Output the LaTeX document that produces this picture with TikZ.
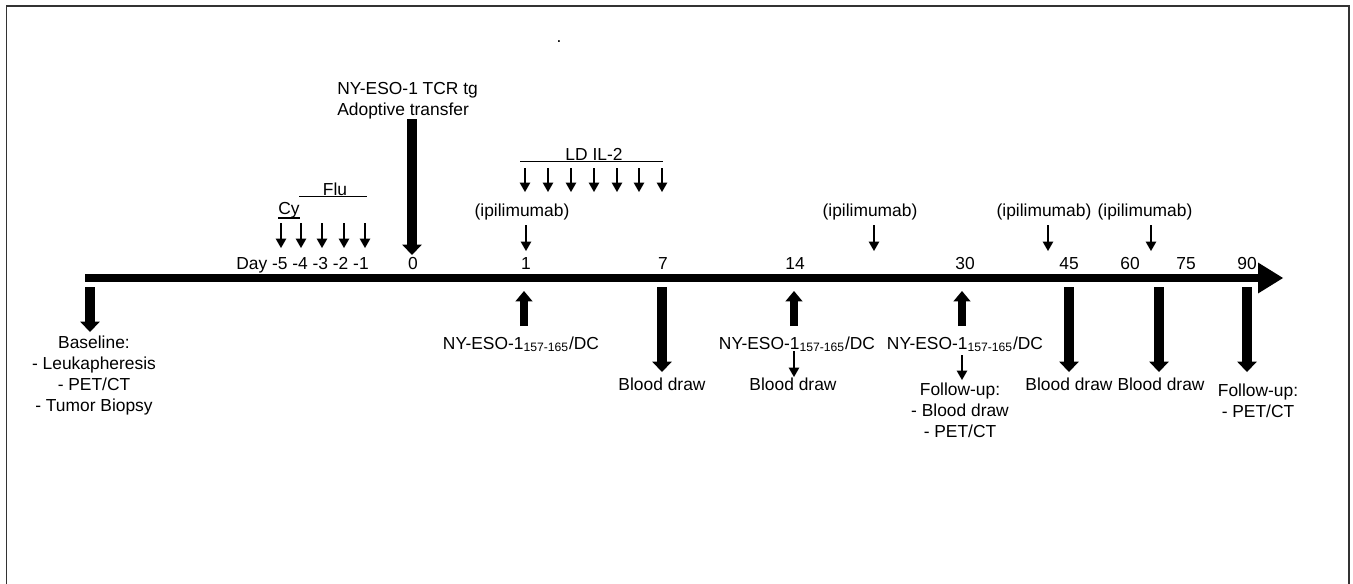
\documentclass[tikz,border=0pt]{standalone}
\usepackage{fontspec}
\setmainfont{Liberation Sans}
\usepackage{tikz}
\usetikzlibrary{positioning,arrows.meta}
\definecolor{framegray}{HTML}{333333}

\tikzset{
  lbl/.style={inner sep=0pt, font=\fontsize{9.9}{11.9}\selectfont},
  bigarr/.style={line width=5.2pt, -{Triangle[width=11.2pt, length=5.9pt, line width=0pt]}},
  uparr/.style={line width=4.4pt, -{Triangle[width=9.8pt, length=5.9pt, line width=0pt]}},
  smallarr/.style={line width=1.3pt, -{Triangle[width=6.2pt, length=5.4pt, line width=0pt]}},
  barline/.style={line width=0.85pt}
}

\begin{document}
\begin{tikzpicture}[x=0.02cm, y=0.02cm]
  \useasboundingbox (0,0) rectangle (1353,583);
  \draw[framegray, line width=0.6pt] (6.5,-5) rectangle (1349,577);
  \node[lbl, anchor=base] (dot) at (559,541) {.};

  % Time line
  \coordinate (tlStart) at (85,305);
  \coordinate (tlEnd) at (1283,305);
  \draw[line width=5.1pt, -{Triangle[width=17.6pt, length=14.2pt, line width=0pt]}] (tlStart) -- (tlEnd);

  % Day labels
  \node[lbl, anchor=base] (dayLbl) at (302.5,314) {Day -5 -4 -3 -2 -1};
  \foreach \d/\x in {0/413, 1/526, 7/663, 14/795, 30/965, 45/1069, 60/1130, 75/1186, 90/1247}
    \node[lbl, anchor=base] (day\d) at (\x,314) {\d};

  % Cy / Flu conditioning
  \node[lbl, anchor=base] (cyLbl) at (289,369) {Cy};
  \draw[barline] (cyLbl.south west) -- (cyLbl.south east);
  \node[lbl, anchor=base] (fluLbl) at (335,388) {Flu};
  \coordinate (fluL) at (299,386.3);
  \coordinate (fluR) at (367,386.3);
  \draw[barline] (fluL) -- (fluR);
  \foreach \i/\x in {1/281, 2/301, 3/322, 4/344, 5/365} {
    \coordinate (cyTop\i) at (\x,360);
    \coordinate (cyTip\i) at (\x,335);
    \draw[smallarr] (cyTop\i) -- (cyTip\i);
  }

  % Adoptive transfer (day 0)
  \node[lbl, anchor=north west, align=left] (adoptLbl) at (337,501) {NY-ESO-1 TCR tg\\Adoptive transfer};
  \coordinate (adoptTop) at (412,464);
  \coordinate (adoptTip) at (412,328);
  \draw[bigarr] (adoptTop) -- (adoptTip);

  % LD IL-2
  \node[lbl, anchor=base] (il2Lbl) at (594,423) {LD IL-2};
  \coordinate (il2L) at (520,421.3);
  \coordinate (il2R) at (663,421.3);
  \draw[barline] (il2L) -- (il2R);
  \foreach \i/\x in {1/525, 2/548, 3/571, 4/594, 5/617, 6/639, 7/662} {
    \coordinate (il2Top\i) at (\x,415);
    \coordinate (il2Tip\i) at (\x,391);
    \draw[smallarr] (il2Top\i) -- (il2Tip\i);
  }

  % ipilimumab doses
  \foreach \i/\xl/\x in {1/522/526, 2/870/874, 3/1044/1048, 4/1145/1151} {
    \node[lbl, anchor=base] (ipiLbl\i) at (\xl,367) {(ipilimumab)};
    \coordinate (ipiTop\i) at (\x,358);
    \coordinate (ipiTip\i) at (\x,332);
    \draw[smallarr] (ipiTop\i) -- (ipiTip\i);
  }

  % Baseline
  \coordinate (baseTop) at (90,296);
  \coordinate (baseTip) at (90,251);
  \draw[bigarr] (baseTop) -- (baseTip);
  \node[lbl, anchor=north, align=center] (baseLbl) at (94,247) {Baseline:\\- Leukapheresis\\- PET/CT\\- Tumor Biopsy};

  % Peptide pulsed DC vaccines
  \foreach \i/\x/\xl in {1/524/521, 2/794/797, 3/962/965} {
    \coordinate (dcBot\i) at (\x,257);
    \coordinate (dcTip\i) at (\x,292);
    \draw[uparr] (dcBot\i) -- (dcTip\i);
    \node[lbl, anchor=base] (dcLbl\i) at (\xl,234) {NY-ESO-1\textsubscript{157-165}/DC};
  }

  % Blood draws
  \foreach \i/\x/\xl in {1/662/662, 2/1069/1069, 3/1159/1161} {
    \coordinate (bdTop\i) at (\x,296);
    \coordinate (bdTip\i) at (\x,211);
    \draw[bigarr] (bdTop\i) -- (bdTip\i);
    \node[lbl, anchor=base] (bdLbl\i) at (\xl,193) {Blood draw};
  }
  \coordinate (bdTop4) at (794,232);
  \coordinate (bdTip4) at (794,206);
  \draw[smallarr] (bdTop4) -- (bdTip4);
  \node[lbl, anchor=base] (bdLbl4) at (793,193) {Blood draw};

  % Follow-up
  \coordinate (fuTop1) at (962,228);
  \coordinate (fuTip1) at (962,203);
  \draw[smallarr] (fuTop1) -- (fuTip1);
  \node[lbl, anchor=north, align=center] (fuLbl1) at (960,200) {Follow-up:\\- Blood draw\\- PET/CT};
  \coordinate (fuTop2) at (1247,296);
  \coordinate (fuTip2) at (1247,211);
  \draw[bigarr] (fuTop2) -- (fuTip2);
  \node[lbl, anchor=north, align=center] (fuLbl2) at (1258,199) {Follow-up:\\- PET/CT};
\end{tikzpicture}
\end{document}
